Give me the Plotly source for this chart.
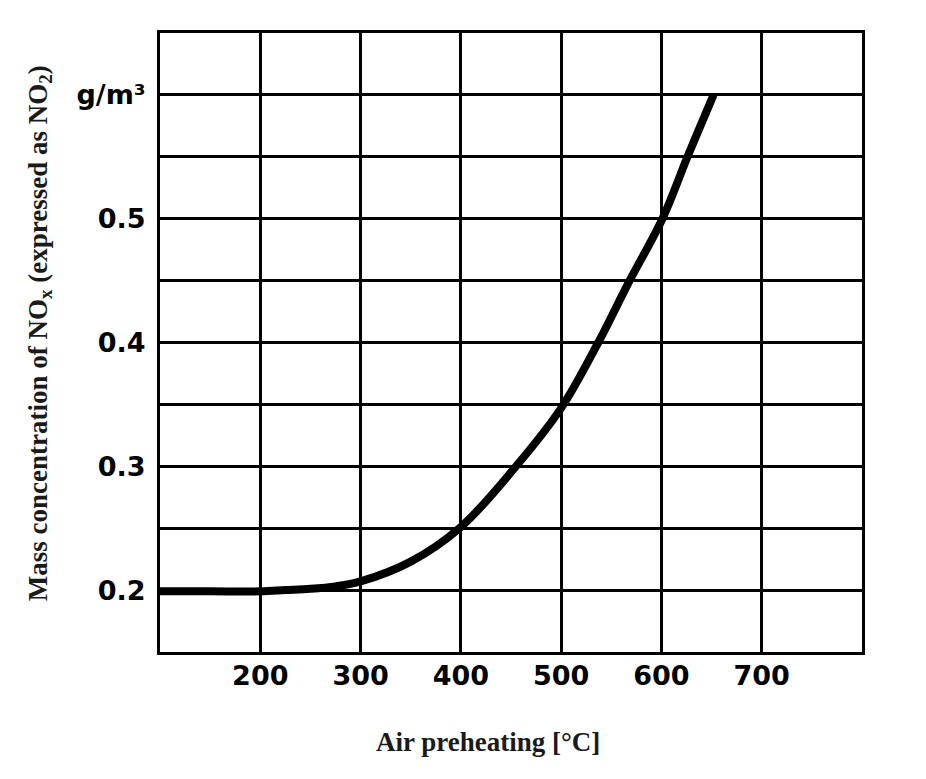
import plotly.graph_objects as go

# values
preheat_c = [100, 150, 200, 225, 250, 275, 300, 350, 400, 455, 500, 537, 567, 601, 626, 652]
nox_g_m3 = [0.199, 0.199, 0.199, 0.200, 0.201, 0.203, 0.207, 0.223, 0.251, 0.300, 0.347, 0.400, 0.448, 0.500, 0.550, 0.600]

x_grid = [100, 200, 300, 400, 500, 600, 700, 800]
x_labels = ["", "200", "300", "400", "500", "600", "700", ""]
y_grid = [0.15, 0.2, 0.25, 0.3, 0.35, 0.4, 0.45, 0.5, 0.55, 0.6, 0.65]
y_labels = ["", "0.2", "", "0.3", "", "0.4", "", "0.5", "", "g/m³", ""]

tick_font = dict(family="DejaVu Sans, Arial, sans-serif", size=27, color="black", weight="bold")
title_font = dict(family="Liberation Serif, Times New Roman, serif", size=27, color="#1a1a1a")

fig = go.Figure()
fig.add_trace(go.Scatter(
    x=preheat_c, y=nox_g_m3, mode="lines",
    line=dict(color="black", width=8, shape="spline", smoothing=1.0),
    showlegend=False, hoverinfo="x+y"
))

# page body adds an 8px offset, margins compensate for it
fig.update_layout(
    width=926, height=779,
    margin=dict(l=152, r=72, t=25, b=135),
    paper_bgcolor="white", plot_bgcolor="white",
    xaxis=dict(
        range=[100, 800], tickmode="array", tickvals=x_grid, ticktext=x_labels,
        showgrid=True, gridcolor="black", gridwidth=2.5, zeroline=False,
        showline=True, linecolor="black", linewidth=3, mirror=True,
        ticks="", tickfont=tick_font, ticklabelstandoff=-2
    ),
    yaxis=dict(
        range=[0.15, 0.65], tickmode="array", tickvals=y_grid, ticktext=y_labels,
        showgrid=True, gridcolor="black", gridwidth=2.5, zeroline=False,
        showline=True, linecolor="black", linewidth=3, mirror=True,
        ticks="", tickfont=tick_font, ticklabelstandoff=6
    ),
    annotations=[
        dict(text="<b>Air preheating [°C]</b>", xref="paper", yref="paper",
             x=0.467, y=-0.145, showarrow=False, font=title_font,
             xanchor="center", yanchor="middle"),
        dict(text="<b>Mass concentration of NO<sub>x</sub> (expressed as NO<sub>2</sub>)</b>",
             xref="paper", yref="paper", x=-0.171, y=0.515, textangle=-90,
             showarrow=False, font=title_font, xanchor="center", yanchor="middle"),
    ],
)

fig.write_html("out.html")
